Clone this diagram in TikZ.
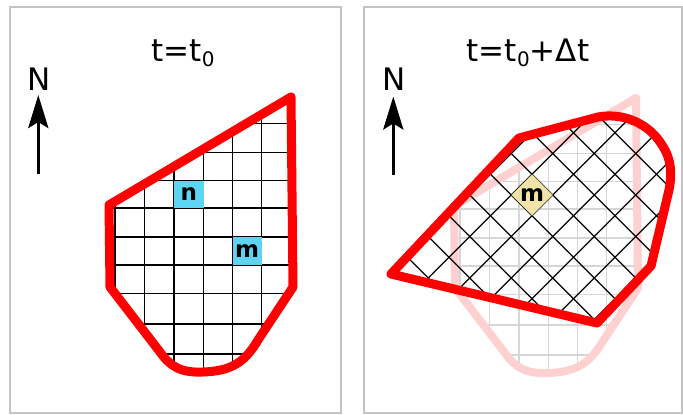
\documentclass[tikz,border=0pt]{standalone}
\usepackage{fontspec}
\setmainfont{DejaVu Sans}
\usetikzlibrary{arrows.meta}
\definecolor{framegray}{RGB}{196,196,196}
\definecolor{cellblue}{RGB}{95,212,242}
\definecolor{cellyellow}{RGB}{240,226,160}
\definecolor{fadepink}{RGB}{255,208,208}
\definecolor{fadegray}{RGB}{214,214,214}
\definecolor{bred}{RGB}{255,0,0}
\tikzset{
  framebox/.style={draw=framegray, line width=2pt},
  gridline/.style={black, line width=1.3pt},
  fadegrid/.style={fadegray, line width=1.5pt},
  outline/.style={draw=bred, line width=9pt, line join=round},
  fadeoutline/.style={draw=fadepink, line width=8pt, line join=round},
  titletext/.style={inner sep=0pt, anchor=base, font=\fontsize{31}{31}\selectfont},
  northtext/.style={inner sep=0pt, anchor=base, font=\fontsize{31}{31}\selectfont},
  celllabel/.style={inner sep=0pt, font=\fontsize{23}{23}\selectfont\bfseries},
  northarrow/.style={-{Stealth[length=33pt,width=20pt,inset=6pt]}, line width=3.3pt, black},
}
\def\leftpoly{(109,205) -- (291,97) -- (293,287) -- (258,340) .. controls (245,362) and (232,371) .. (203,372) .. controls (180,373) and (170,366) .. (160,352) -- (110,287) -- cycle}
\def\rotpoly{(391,274) -- (519,138) -- (598,117) .. controls (625,112) and (650,125) .. (662,145) .. controls (672,160) and (672,175) .. (669,190) -- (651,266) -- (597,323) -- cycle}
\begin{document}
\begin{tikzpicture}[x=1pt,y=-1pt]
\useasboundingbox (0,0) rectangle (683,415);
\fill[white] (0,0) rectangle (683,415);
% frames
\draw[framebox] (10,7) rectangle (341,413);
\draw[framebox] (364,7) rectangle (682,413);

% ---------- left panel ----------
\node[titletext] (title1) at (183,61.7) {t=t\raisebox{-5pt}{\fontsize{20}{20}\selectfont 0}};
\node[northtext] (north1) at (39,90) {N};
\coordinate (s1) at (38.3,174);
\coordinate (e1) at (38.3,95);
\draw[northarrow] (s1) -- (e1);

\begin{scope}
  \clip \leftpoly;
  \foreach \x in {115,144.5,174,203.5,232.5,261.5,290.5}
    \draw[gridline] (\x,80) -- (\x,400);
  \foreach \y in {94.5,123.5,152.5,180.5,208,237,265,293.5,324,354}
    \draw[gridline] (90,\y) -- (310,\y);
\end{scope}
\fill[cellblue] (174,180.5) rectangle (203.5,208);
\fill[cellblue] (232.5,237) rectangle (261.5,265);
\node[celllabel] (n1) at (188.8,194.5) {n};
\node[celllabel] (m1) at (247,251) {m};
\draw[outline] \leftpoly;

% ---------- right panel ----------
\node[titletext] (title2) at (528,61.7) {t=t\raisebox{-5pt}{\fontsize{20}{20}\selectfont 0}+Δt};
\node[northtext] (north2) at (394,90) {N};
\coordinate (s2) at (393.3,175);
\coordinate (e2) at (393.3,96.5);
\draw[northarrow] (s2) -- (e2);

\begin{scope}[shift={(345,1)}]
  \begin{scope}
    \clip \leftpoly;
    \foreach \x in {115,144.5,174,203.5,232.5,261.5,290.5}
      \draw[fadegrid] (\x,80) -- (\x,400);
    \foreach \y in {94.5,123.5,152.5,180.5,208,237,265,293.5,324,354}
      \draw[fadegrid] (90,\y) -- (310,\y);
  \end{scope}
  \draw[fadeoutline] \leftpoly;
\end{scope}

\begin{scope}
  \clip \rotpoly;
  \foreach \k in {-8,...,8} {
    \pgfmathsetmacro{\px}{511.25+41.5*\k}
    \draw[gridline] (\px-260,195-260) -- (\px+260,195+260);
    \draw[gridline] (\px-260,195+260) -- (\px+260,195-260);
  }
\end{scope}
\fill[cellyellow, opacity=0.9] (511.25,195) -- (532,174.25) -- (552.75,195) -- (532,215.75) -- cycle;
\node[celllabel] (m2) at (532,195.5) {m};
\draw[outline] \rotpoly;
\end{tikzpicture}
\end{document}
